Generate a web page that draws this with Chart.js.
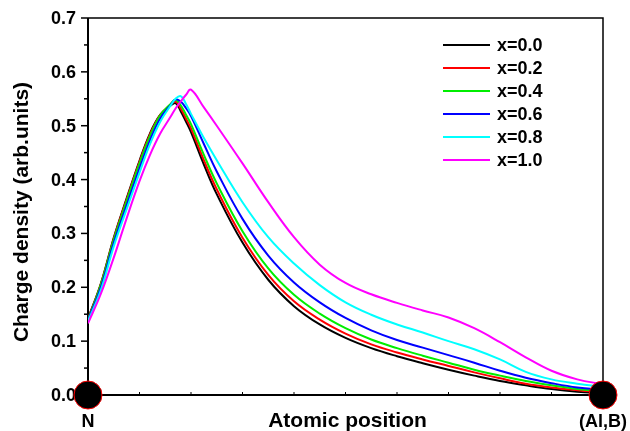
<!DOCTYPE html>
<html lang="en">
<head>
<meta charset="UTF-8">
<title>Charge density</title>
<script src="https://cdn.jsdelivr.net/npm/chart.js"></script>
<style>
  body { margin: 0; background: #fff; }
  .wrap { width: 630px; height: 431px; }
</style>
</head>
<body>
<div class="wrap"><canvas id="chart" width="630" height="431"></canvas></div>
<script>
// positions along the N -> (Al,B) bond, 0 = N, 1 = (Al,B)
const positions = [0, 0.025, 0.05, 0.075, 0.1, 0.12, 0.14, 0.16, 0.17, 0.18, 0.19, 0.2, 0.225, 0.25,
                   0.3, 0.35, 0.4, 0.45, 0.5, 0.55, 0.6, 0.65, 0.7, 0.75, 0.8, 0.85, 0.9, 0.95, 1.0];

const x00 = [0.142, 0.207, 0.292, 0.365, 0.435, 0.485, 0.520, 0.537, 0.542, 0.527, 0.508, 0.488, 0.428, 0.373,
             0.283, 0.214, 0.165, 0.131, 0.106, 0.087, 0.072, 0.059, 0.047, 0.036, 0.026, 0.018, 0.011, 0.006, 0.003];
const x02 = [0.141, 0.206, 0.290, 0.363, 0.433, 0.483, 0.520, 0.539, 0.545, 0.532, 0.514, 0.495, 0.436, 0.382,
             0.292, 0.223, 0.174, 0.140, 0.114, 0.094, 0.079, 0.066, 0.054, 0.042, 0.031, 0.021, 0.014, 0.009, 0.005];
const x04 = [0.140, 0.205, 0.288, 0.360, 0.430, 0.480, 0.519, 0.540, 0.548, 0.538, 0.521, 0.503, 0.446, 0.393,
             0.304, 0.235, 0.186, 0.151, 0.124, 0.103, 0.087, 0.073, 0.060, 0.047, 0.036, 0.026, 0.018, 0.011, 0.007];
const x06 = [0.139, 0.200, 0.282, 0.352, 0.421, 0.472, 0.513, 0.538, 0.549, 0.545, 0.533, 0.518, 0.466, 0.415,
             0.327, 0.259, 0.209, 0.172, 0.143, 0.120, 0.102, 0.088, 0.074, 0.060, 0.045, 0.032, 0.022, 0.014, 0.010];
const x08 = [0.137, 0.195, 0.276, 0.345, 0.413, 0.465, 0.507, 0.537, 0.550, 0.555, 0.541, 0.522, 0.477, 0.436,
             0.358, 0.293, 0.244, 0.204, 0.172, 0.149, 0.131, 0.116, 0.100, 0.085, 0.066, 0.043, 0.029, 0.021, 0.015];
const x10 = [0.133, 0.188, 0.255, 0.328, 0.397, 0.445, 0.485, 0.516, 0.532, 0.545, 0.557, 0.567, 0.534, 0.500,
             0.430, 0.358, 0.293, 0.242, 0.208, 0.187, 0.171, 0.157, 0.144, 0.124, 0.098, 0.070, 0.045, 0.029, 0.020];

const seriesNames = ['x=0.0', 'x=0.2', 'x=0.4', 'x=0.6', 'x=0.8', 'x=1.0'];
const seriesValues = [x00, x02, x04, x06, x08, x10];
const seriesColors = ['#000000', '#ff0000', '#00ee00', '#0000ff', '#00ffff', '#ff00ff'];

// atoms sit at both ends of the axis
const atomPositions = [0, 1];
const atomLabels = ['N', '(Al,B)'];

const yTickValues = [0, 0.1, 0.2, 0.3, 0.4, 0.5, 0.6, 0.7];
const yTickLabels = ['0.0', '0.1', '0.2', '0.3', '0.4', '0.5', '0.6', '0.7'];
const yMinorTicks = [0.05, 0.15, 0.25, 0.35, 0.45, 0.55, 0.65];
const xTickValues = [0.1, 0.2, 0.3, 0.4, 0.5, 0.6, 0.7, 0.8, 0.9];

const FONT = '"Liberation Sans", Arial, sans-serif';

const datasets = seriesValues.map((vals, i) => ({
    label: seriesNames[i],
    data: positions.map((p, j) => ({ x: p, y: vals[j] })),
    borderColor: seriesColors[i],
    borderWidth: 2,
    pointRadius: 0,
    fill: false,
    tension: 0.4,
    order: seriesNames.length - i
}));

datasets.push({
    label: 'atoms',
    data: atomPositions.map(p => ({ x: p, y: 0 })),
    showLine: false,
    pointRadius: 14,
    pointBackgroundColor: '#000',
    pointBorderColor: '#ff0000',
    pointBorderWidth: 1,
    clip: false,
    order: 0
});

// frame, ticks, labels and legend
const decorations = {
    id: 'decorations',
    beforeDatasetsDraw(chart) {
        const ctx = chart.ctx;
        const a = chart.chartArea;
        const xs = chart.scales.x, ys = chart.scales.y;
        ctx.save();
        ctx.strokeStyle = '#000';

        // box
        ctx.lineWidth = 1.5;
        ctx.beginPath();
        ctx.moveTo(a.left, a.top); ctx.lineTo(a.right, a.top); ctx.lineTo(a.right, a.bottom);
        ctx.stroke();
        ctx.lineWidth = 2;
        ctx.beginPath();
        ctx.moveTo(a.left, a.top); ctx.lineTo(a.left, a.bottom); ctx.lineTo(a.right, a.bottom);
        ctx.stroke();

        // y ticks, outward
        ctx.lineWidth = 1.5;
        yTickValues.forEach(v => {
            const y = ys.getPixelForValue(v);
            ctx.beginPath(); ctx.moveTo(a.left - 7, y); ctx.lineTo(a.left, y); ctx.stroke();
        });
        yMinorTicks.forEach(v => {
            const y = ys.getPixelForValue(v);
            ctx.beginPath(); ctx.moveTo(a.left - 4, y); ctx.lineTo(a.left, y); ctx.stroke();
        });
        // x ticks, inward
        ctx.lineWidth = 1;
        xTickValues.forEach(v => {
            const x = xs.getPixelForValue(v);
            ctx.beginPath(); ctx.moveTo(x, a.bottom); ctx.lineTo(x, a.bottom - 3); ctx.stroke();
        });

        // y tick labels
        ctx.fillStyle = '#000';
        ctx.font = 'bold 18px ' + FONT;
        ctx.textAlign = 'right';
        ctx.textBaseline = 'middle';
        yTickValues.forEach((v, i) => {
            ctx.fillText(yTickLabels[i], a.left - 12, ys.getPixelForValue(v) + 1);
        });

        // atom labels under the axis
        ctx.textAlign = 'center';
        atomPositions.forEach((p, i) => {
            ctx.fillText(atomLabels[i], xs.getPixelForValue(p), 422);
        });

        // axis titles
        ctx.font = 'bold 21px ' + FONT;
        ctx.fillText('Atomic position', (a.left + a.right) / 2 + 2, 421);
        ctx.save();
        ctx.translate(22, 212);
        ctx.rotate(-Math.PI / 2);
        ctx.fillText('Charge density (arb.units)', 0, 0);
        ctx.restore();

        // legend
        ctx.font = 'bold 18px ' + FONT;
        ctx.textAlign = 'left';
        ctx.lineWidth = 2;
        seriesNames.forEach((name, i) => {
            const y = 45 + i * 23;
            ctx.strokeStyle = seriesColors[i];
            ctx.beginPath(); ctx.moveTo(443, y); ctx.lineTo(490, y); ctx.stroke();
            ctx.fillText(name, 497, y + 1);
        });
        ctx.restore();
    }
};

new Chart(document.getElementById('chart'), {
    type: 'line',
    data: { datasets },
    options: {
        responsive: false,
        animation: false,
        devicePixelRatio: 1,
        layout: { padding: { left: 88, right: 27, top: 18, bottom: 36 } },
        scales: {
            x: { type: 'linear', min: 0, max: 1, display: false },
            y: { min: 0, max: 0.7, display: false }
        },
        plugins: {
            legend: { display: false },
            tooltip: { enabled: false }
        }
    },
    plugins: [decorations]
});
</script>
</body>
</html>
